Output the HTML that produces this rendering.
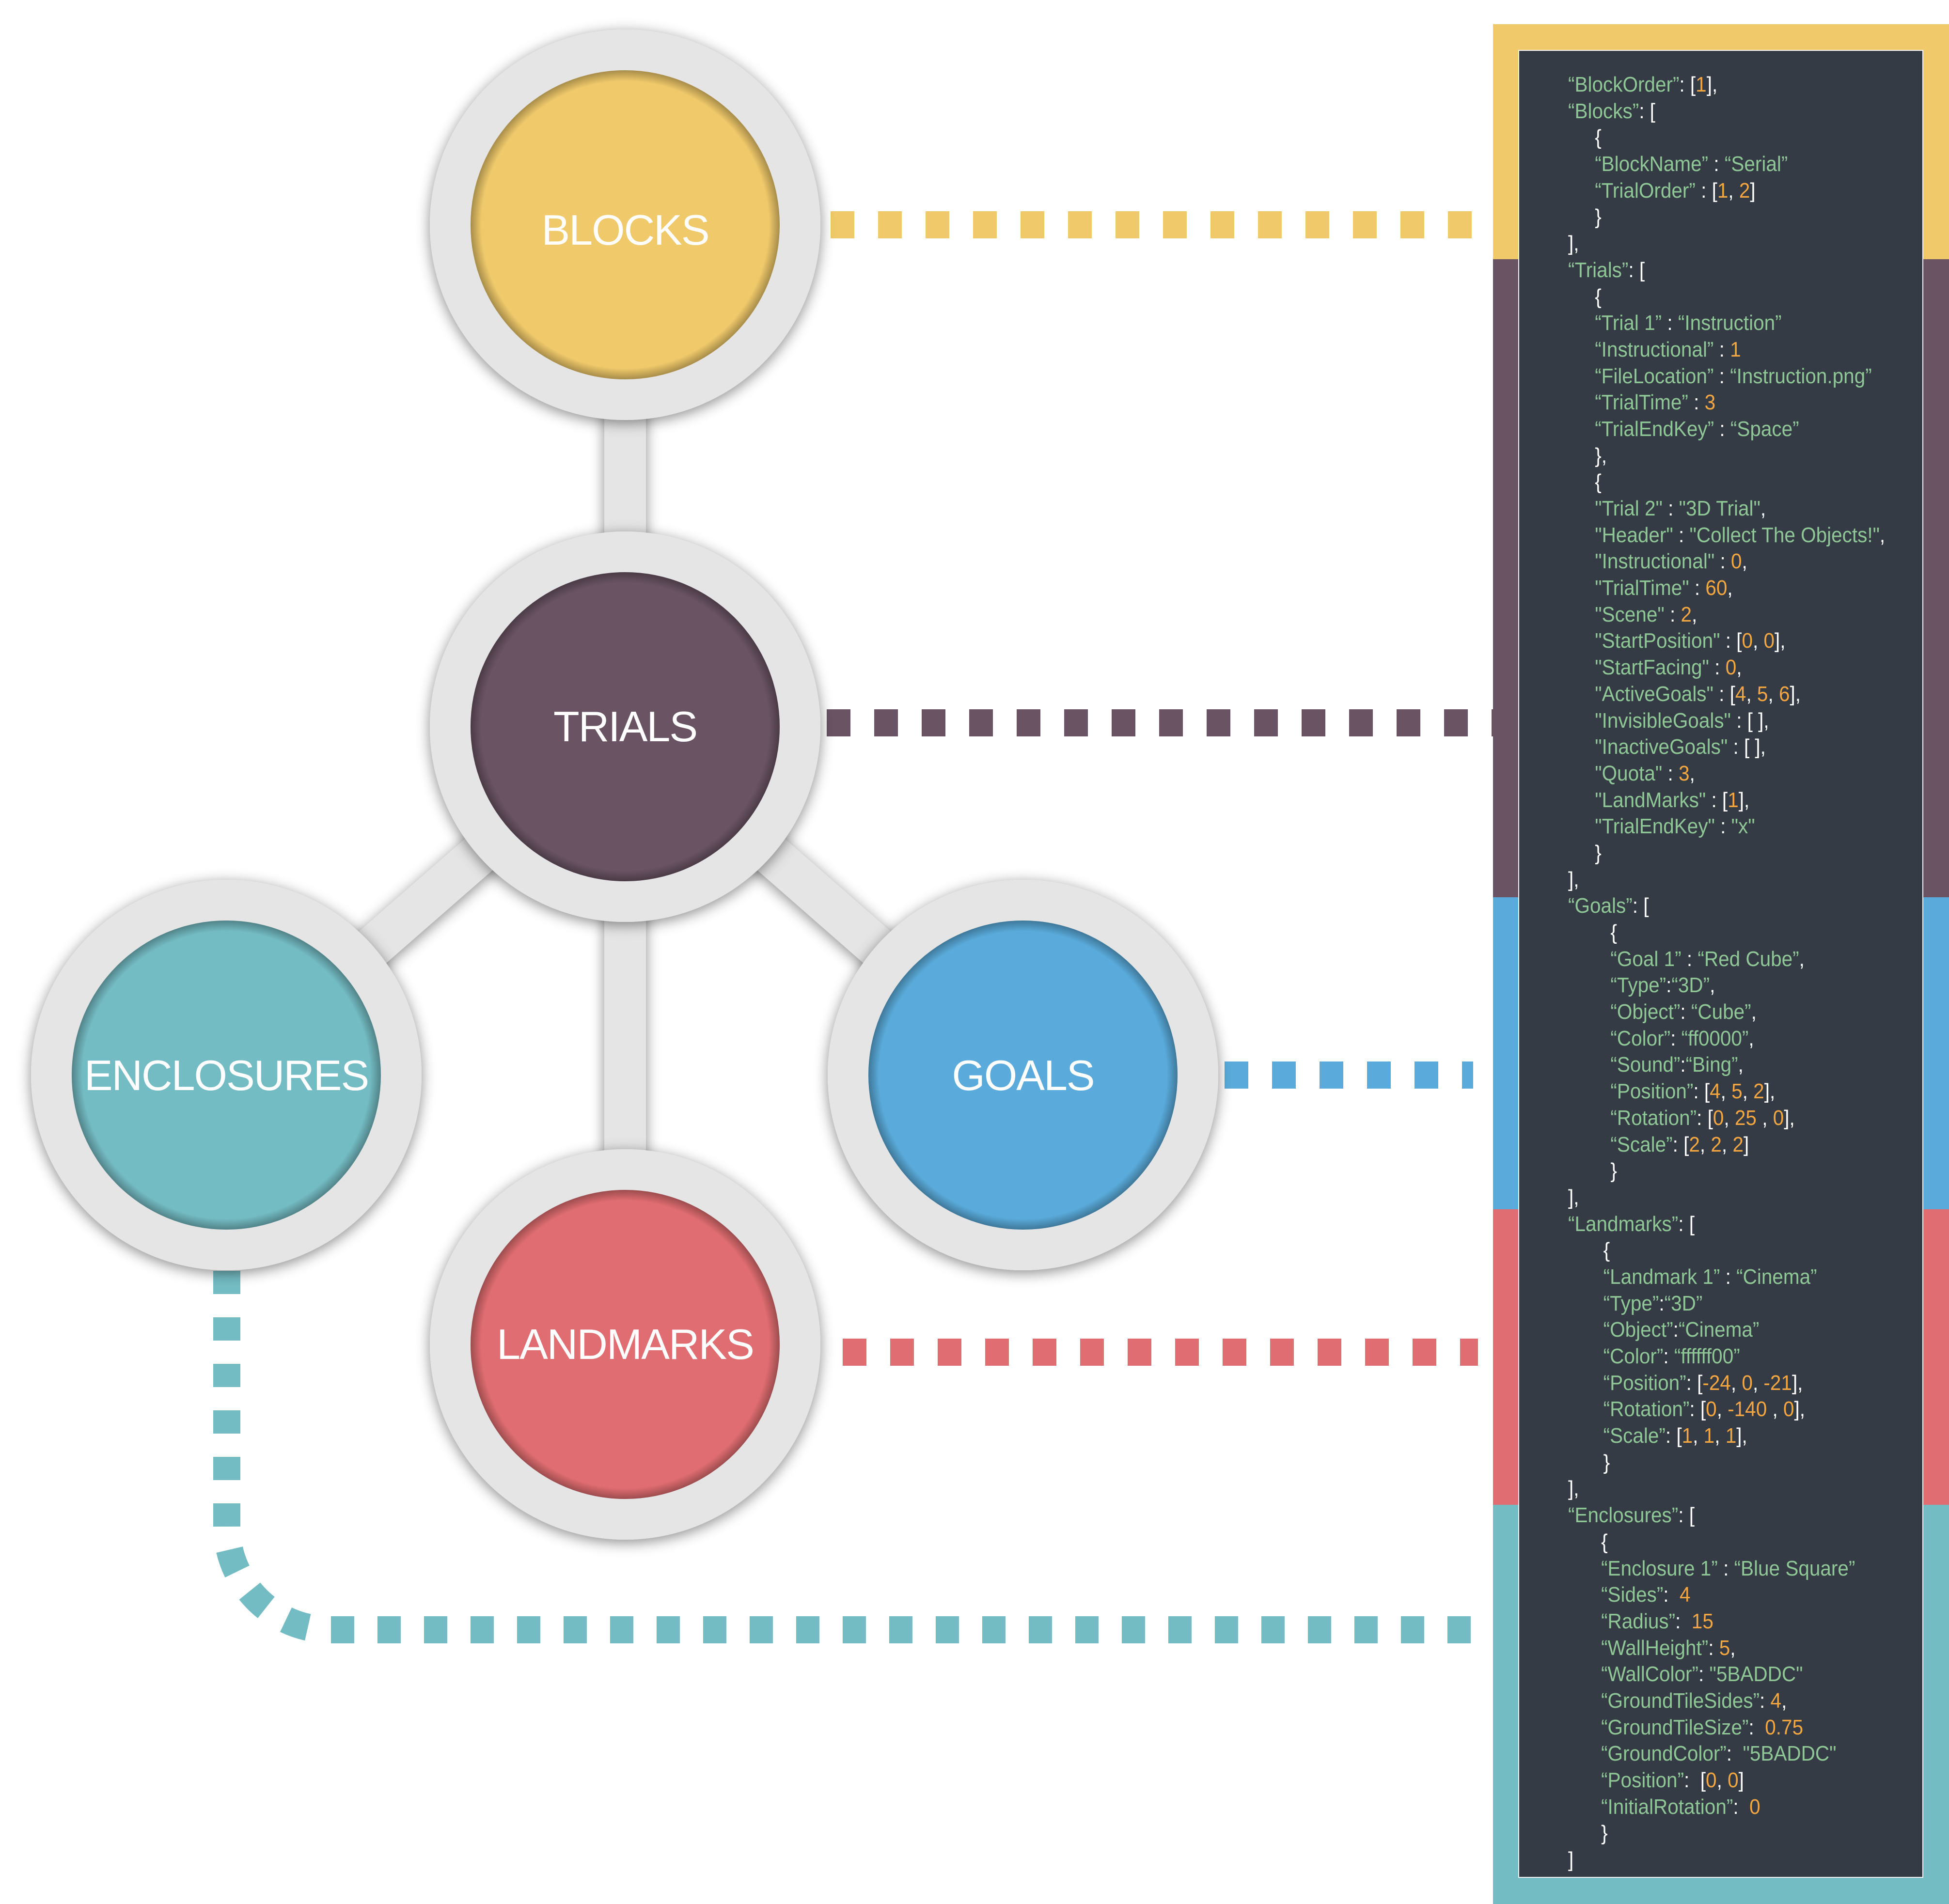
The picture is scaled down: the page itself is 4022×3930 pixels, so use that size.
<!DOCTYPE html>
<html><head><meta charset="utf-8"><style>
html,body{margin:0;padding:0;background:#fff;overflow:hidden;}
body{width:4022px;height:3930px;position:relative;overflow:hidden;}
#panel{position:absolute;left:3081px;top:50px;width:941px;height:3880px;}
.band{position:absolute;left:0;width:941px;}
#dark{position:absolute;left:3133px;top:103px;width:836px;height:3773px;background:#343b45;border:2px solid #f4f4f4;box-sizing:border-box;}
#code{position:absolute;left:3236px;top:148px;font-family:"Liberation Sans",sans-serif;font-size:44px;line-height:54.7px;color:#fff;transform:scaleX(0.92);transform-origin:0 0;}
#code div{height:54.7px;white-space:pre;}
.k{color:#8fc796;}
.n{color:#f4a641;}
.i1{padding-left:60px;}
.i2{padding-left:95px;}
.i3{padding-left:79px;}
.i4{padding-left:74px;}
</style></head><body>
<svg width="4022" height="3930" style="position:absolute;left:0;top:0">
<defs>
<filter id="ds" x="-30%" y="-30%" width="160%" height="160%"><feDropShadow dx="0" dy="6" stdDeviation="14" flood-color="#000" flood-opacity="0.45"/></filter>
<radialGradient id="rim" cx="50%" cy="50%" r="50%">
<stop offset="0.93" stop-color="#000" stop-opacity="0"/>
<stop offset="1" stop-color="#000" stop-opacity="0.3"/>
</radialGradient>
</defs>
<g fill="none" stroke-width="56">
<line x1="1714" y1="464" x2="3081" y2="464" stroke="#efc96a" stroke-dasharray="49 49"/>
<line x1="1706" y1="1492" x2="3081" y2="1492" stroke="#6a5464" stroke-dasharray="49 49"/>
<line x1="2527" y1="2219" x2="3040" y2="2219" stroke="#5aabdb" stroke-dasharray="49 49"/>
<line x1="1739" y1="2791" x2="3050" y2="2791" stroke="#e06d71" stroke-dasharray="49 49"/>
<path d="M468,2623 V3150 A214 214 0 0 0 682 3364 H3045" stroke="#74bcc3" stroke-dasharray="48 48"/>
</g>
<g stroke="#e5e5e5" stroke-width="86" filter="url(#ds)">
<line x1="1290" y1="464" x2="1290" y2="1500"/>
<line x1="1290" y1="1500" x2="1290" y2="2775"/>
<line x1="1290" y1="1500" x2="467" y2="2219"/>
<line x1="1290" y1="1500" x2="2111" y2="2219"/>
</g>
<g fill="#e5e5e5" filter="url(#ds)">
<circle cx="1290" cy="464" r="403"/>
<circle cx="1290" cy="1500" r="403"/>
<circle cx="467" cy="2219" r="403"/>
<circle cx="2111" cy="2219" r="403"/>
<circle cx="1290" cy="2775" r="403"/>
</g>
<g>
<circle cx="1290" cy="464" r="319" fill="#efc96a"/><circle cx="1290" cy="464" r="319" fill="url(#rim)"/>
<circle cx="1290" cy="1500" r="319" fill="#6a5464"/><circle cx="1290" cy="1500" r="319" fill="url(#rim)"/>
<circle cx="467" cy="2219" r="319" fill="#74bcc3"/><circle cx="467" cy="2219" r="319" fill="url(#rim)"/>
<circle cx="2111" cy="2219" r="319" fill="#5aabdb"/><circle cx="2111" cy="2219" r="319" fill="url(#rim)"/>
<circle cx="1290" cy="2775" r="319" fill="#e06d71"/><circle cx="1290" cy="2775" r="319" fill="url(#rim)"/>
</g>
<g fill="#fff" font-family="Liberation Sans, sans-serif" font-size="88" text-anchor="middle" letter-spacing="-2">
<text x="1290" y="505">BLOCKS</text>
<text x="1290" y="1530">TRIALS</text>
<text x="467" y="2250">ENCLOSURES</text>
<text x="2111" y="2250">GOALS</text>
<text x="1290" y="2805">LANDMARKS</text>
</g>
</svg>
<div id="panel">
<div class="band" style="top:0;height:485px;background:#efc96a"></div>
<div class="band" style="top:485px;height:1317px;background:#6a5464"></div>
<div class="band" style="top:1802px;height:644px;background:#5aabdb"></div>
<div class="band" style="top:2446px;height:610px;background:#e06d71"></div>
<div class="band" style="top:3056px;height:830px;background:#74bcc3"></div>
</div>
<div id="dark"></div>
<div id="code"><div><span class="k">“BlockOrder”</span>: [<span class="n">1</span>],</div><div><span class="k">“Blocks”</span>: [</div><div class="i1">{</div><div class="i1"><span class="k">“BlockName”</span> : <span class="k">“Serial”</span></div><div class="i1"><span class="k">“TrialOrder”</span> : [<span class="n">1</span>, <span class="n">2</span>]</div><div class="i1">}</div><div>],</div><div><span class="k">“Trials”</span>: [</div><div class="i1">{</div><div class="i1"><span class="k">“Trial 1”</span> : <span class="k">“Instruction”</span></div><div class="i1"><span class="k">“Instructional”</span> : <span class="n">1</span></div><div class="i1"><span class="k">“FileLocation”</span> : <span class="k">“Instruction.png”</span></div><div class="i1"><span class="k">“TrialTime”</span> : <span class="n">3</span></div><div class="i1"><span class="k">“TrialEndKey”</span> : <span class="k">“Space”</span></div><div class="i1">},</div><div class="i1">{</div><div class="i1"><span class="k">"Trial 2"</span> : <span class="k">"3D Trial"</span>,</div><div class="i1"><span class="k">"Header"</span> : <span class="k">"Collect The Objects!"</span>,</div><div class="i1"><span class="k">"Instructional"</span> : <span class="n">0</span>,</div><div class="i1"><span class="k">"TrialTime"</span> : <span class="n">60</span>,</div><div class="i1"><span class="k">"Scene"</span> : <span class="n">2</span>,</div><div class="i1"><span class="k">"StartPosition"</span> : [<span class="n">0</span>, <span class="n">0</span>],</div><div class="i1"><span class="k">"StartFacing"</span> : <span class="n">0</span>,</div><div class="i1"><span class="k">"ActiveGoals"</span> : [<span class="n">4</span>, <span class="n">5</span>, <span class="n">6</span>],</div><div class="i1"><span class="k">"InvisibleGoals"</span> : [ ],</div><div class="i1"><span class="k">"InactiveGoals"</span> : [ ],</div><div class="i1"><span class="k">"Quota"</span> : <span class="n">3</span>,</div><div class="i1"><span class="k">"LandMarks"</span> : [<span class="n">1</span>],</div><div class="i1"><span class="k">"TrialEndKey"</span> : <span class="k">"x"</span></div><div class="i1">}</div><div>],</div><div><span class="k">“Goals”</span>: [</div><div class="i2">{</div><div class="i2"><span class="k">“Goal 1”</span> : <span class="k">“Red Cube”</span>,</div><div class="i2"><span class="k">“Type”</span>:<span class="k">“3D”</span>,</div><div class="i2"><span class="k">“Object”</span>: <span class="k">“Cube”</span>,</div><div class="i2"><span class="k">“Color”</span>: <span class="k">“ff0000”</span>,</div><div class="i2"><span class="k">“Sound”</span>:<span class="k">“Bing”</span>,</div><div class="i2"><span class="k">“Position”</span>: [<span class="n">4</span>, <span class="n">5</span>, <span class="n">2</span>],</div><div class="i2"><span class="k">“Rotation”</span>: [<span class="n">0</span>, <span class="n">25</span> , <span class="n">0</span>],</div><div class="i2"><span class="k">“Scale”</span>: [<span class="n">2</span>, <span class="n">2</span>, <span class="n">2</span>]</div><div class="i2">}</div><div>],</div><div><span class="k">“Landmarks”</span>: [</div><div class="i3">{</div><div class="i3"><span class="k">“Landmark 1”</span> : <span class="k">“Cinema”</span></div><div class="i3"><span class="k">“Type”</span>:<span class="k">“3D”</span></div><div class="i3"><span class="k">“Object”</span>:<span class="k">“Cinema”</span></div><div class="i3"><span class="k">“Color”</span>: <span class="k">“ffffff00”</span></div><div class="i3"><span class="k">“Position”</span>: [<span class="n">-24</span>, <span class="n">0</span>, <span class="n">-21</span>],</div><div class="i3"><span class="k">“Rotation”</span>: [<span class="n">0</span>, <span class="n">-140</span> , <span class="n">0</span>],</div><div class="i3"><span class="k">“Scale”</span>: [<span class="n">1</span>, <span class="n">1</span>, <span class="n">1</span>],</div><div class="i3">}</div><div>],</div><div><span class="k">“Enclosures”</span>: [</div><div class="i4">{</div><div class="i4"><span class="k">“Enclosure 1”</span> : <span class="k">“Blue Square”</span></div><div class="i4"><span class="k">“Sides”</span>:  <span class="n">4</span></div><div class="i4"><span class="k">“Radius”</span>:  <span class="n">15</span></div><div class="i4"><span class="k">“WallHeight”</span>: <span class="n">5</span>,</div><div class="i4"><span class="k">“WallColor”</span>: <span class="k">"5BADDC"</span></div><div class="i4"><span class="k">“GroundTileSides”</span>: <span class="n">4</span>,</div><div class="i4"><span class="k">“GroundTileSize”</span>:  <span class="n">0.75</span></div><div class="i4"><span class="k">“GroundColor”</span>:  <span class="k">"5BADDC"</span></div><div class="i4"><span class="k">“Position”</span>:  [<span class="n">0</span>, <span class="n">0</span>]</div><div class="i4"><span class="k">“InitialRotation”</span>:  <span class="n">0</span></div><div class="i4">}</div><div>]</div></div>
</body></html>
